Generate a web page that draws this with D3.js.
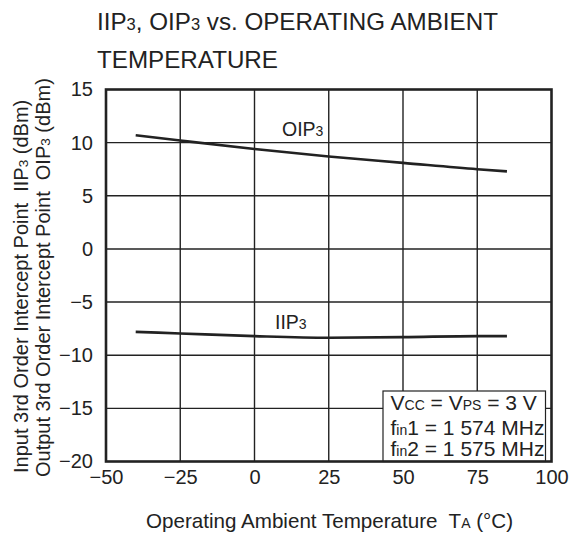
<!DOCTYPE html>
<html>
<head>
<meta charset="utf-8">
<script src="https://cdn.jsdelivr.net/npm/d3@7"></script>
<style>
  html, body { margin: 0; padding: 0; background: #fff; }
  svg text { font-family: "Liberation Sans", Arial, Helvetica, sans-serif; fill: #222; white-space: pre; }
</style>
</head>
<body>
<svg id="chart" width="572" height="535"></svg>
<script>
// ---- data ----
const temperatures = [-40, -25, 0, 25, 50, 75, 85];
const oip3Values = [10.7, 10.2, 9.4, 8.7, 8.1, 7.5, 7.3];
const iip3Values = [-7.8, -7.95, -8.2, -8.35, -8.3, -8.2, -8.2];
const xTicks = [-50, -25, 0, 25, 50, 75, 100];
const yTicks = [-20, -15, -10, -5, 0, 5, 10, 15];

const svg = d3.select("#chart");
const pLeft = 106, pRight = 551.5, pTop = 89.5, pBottom = 461.5;

const x = d3.scaleLinear().domain([-50, 100]).range([pLeft, pRight]);
const y = d3.scaleLinear().domain([-20, 15]).range([pBottom, pTop]);

const fmt = d => (d < 0 ? "\u2212" + Math.abs(d) : String(d));

// gridlines
const grid = svg.append("g");
grid.selectAll("line.v").data(xTicks.slice(1, -1)).enter().append("line")
  .attr("x1", d => x(d)).attr("x2", d => x(d)).attr("y1", pTop).attr("y2", pBottom)
  .attr("stroke", "#222").attr("stroke-width", 1.4);
grid.selectAll("line.h").data(yTicks.slice(1, -1)).enter().append("line")
  .attr("y1", d => y(d)).attr("y2", d => y(d)).attr("x1", pLeft).attr("x2", pRight)
  .attr("stroke", "#222").attr("stroke-width", 1.4);

// axes (labels only)
const xAxis = d3.axisBottom(x).tickValues(xTicks).tickFormat(fmt).tickSize(0).tickPadding(8);
const gx = svg.append("g").attr("transform", `translate(0,${pBottom})`).call(xAxis);
gx.select(".domain").remove();
gx.selectAll("text").attr("font-size", 20).attr("fill", "#222")
  .attr("font-family", "Liberation Sans, Arial, sans-serif");

const yAxis = d3.axisLeft(y).tickValues(yTicks).tickFormat(fmt).tickSize(0).tickPadding(13);
const gy = svg.append("g").attr("transform", `translate(${pLeft},0)`).call(yAxis);
gy.select(".domain").remove();
gy.selectAll("text").attr("font-size", 20).attr("fill", "#222")
  .attr("font-family", "Liberation Sans, Arial, sans-serif");

// legend / condition box
const box = svg.append("g");
box.append("rect").attr("x", 383).attr("y", 391).attr("width", 162.5).attr("height", pBottom - 391)
  .attr("fill", "#fff").attr("stroke", "#222").attr("stroke-width", 1.2);

function subText(g, xPos, yPos, parts, size, subSize) {
  const t = g.append("text").attr("x", xPos).attr("y", yPos).attr("font-size", size);
  parts.forEach(p => {
    t.append("tspan").text(p[0]).attr("font-size", p[1] ? subSize : size);
  });
  return t;
}
subText(box, 390.5, 410, [["V"], ["CC", 1], [" = V"], ["PS", 1], [" = 3 V"]], 21, 14);
subText(box, 390.5, 435, [["f"], ["in", 1], ["1 = 1 574 MHz"]], 21, 14);
subText(box, 390.5, 456, [["f"], ["in", 1], ["2 = 1 575 MHz"]], 21, 14);

// frame
svg.append("rect").attr("x", pLeft).attr("y", pTop).attr("width", pRight - pLeft).attr("height", pBottom - pTop)
  .attr("fill", "none").attr("stroke", "#222").attr("stroke-width", 2.6);

// data lines
const line = d3.line().x((d, i) => x(temperatures[i])).y(d => y(d)).curve(d3.curveMonotoneX);
svg.append("path").datum(oip3Values).attr("d", line)
  .attr("fill", "none").attr("stroke", "#222").attr("stroke-width", 2.6);
svg.append("path").datum(iip3Values).attr("d", line)
  .attr("fill", "none").attr("stroke", "#222").attr("stroke-width", 2.6);

// series labels
subText(svg, 282, 136, [["OIP"], ["3", 1]], 19.5, 14);
subText(svg, 275, 328.5, [["IIP"], ["3", 1]], 19.5, 14);

// title
subText(svg, 97, 29.5, [["IIP"], ["3", 1], [", OIP"], ["3", 1], [" vs. OPERATING AMBIENT"]], 24.2, 16.5);
subText(svg, 97, 68, [["TEMPERATURE"]], 24.2, 16.5);

// x axis title
subText(svg, 146, 528, [["Operating Ambient Temperature  T"], ["A", 1], [" (\u00B0C)"]], 20.6, 14);

// y axis titles
const yl1 = subText(svg, 0, 0, [["Input 3rd Order Intercept Point  IIP"], ["3", 1], [" (dBm)"]], 20, 13.5);
yl1.attr("transform", "translate(28,473) rotate(-90)");
const yl2 = subText(svg, 0, 0, [["Output 3rd Order Intercept Point  OIP"], ["3", 1], [" (dBm)"]], 20, 13.5);
yl2.attr("transform", "translate(50,477) rotate(-90)");
</script>
</body>
</html>
